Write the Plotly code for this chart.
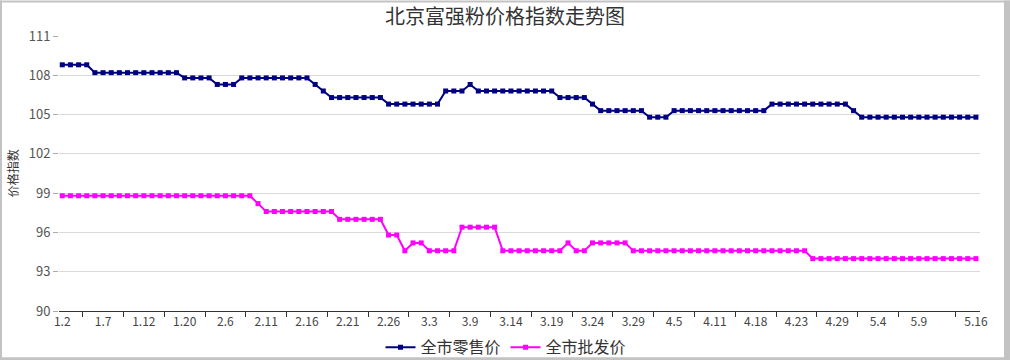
import plotly.graph_objects as go

dates = [
    "1.2", "1.3", "1.4", "1.5", "1.6",
    "1.7", "1.8", "1.9", "1.10", "1.11",
    "1.12", "1.13", "1.14", "1.17", "1.18",
    "1.20", "1.21", "1.24", "1.25", "1.26",
    "2.6", "2.7", "2.8", "2.9", "2.10",
    "2.11", "2.12", "2.13", "2.14", "2.15",
    "2.16", "2.17", "2.18", "2.19", "2.20",
    "2.21", "2.22", "2.23", "2.24", "2.25",
    "2.26", "2.27", "2.28", "3.1", "3.2",
    "3.3", "3.4", "3.5", "3.7", "3.8",
    "3.9", "3.10", "3.11", "3.12", "3.13",
    "3.14", "3.15", "3.16", "3.17", "3.18",
    "3.19", "3.20", "3.21", "3.22", "3.23",
    "3.24", "3.25", "3.26", "3.27", "3.28",
    "3.29", "3.30", "3.31", "4.1", "4.2",
    "4.5", "4.6", "4.7", "4.8", "4.9",
    "4.11", "4.12", "4.13", "4.14", "4.15",
    "4.18", "4.19", "4.20", "4.21", "4.22",
    "4.23", "4.24", "4.25", "4.26", "4.27",
    "4.29", "4.30", "5.1", "5.2", "5.3",
    "5.4", "5.5", "5.6", "5.7", "5.8",
    "5.9", "5.10", "5.11", "5.12", "5.13", "5.14", "5.15",
    "5.16",
]

retail = (
    [108.8] * 4 + [108.2] * 11 + [107.8] * 4 + [107.3] * 3 + [107.8] * 9
    + [107.3] + [106.8] + [106.3] * 7 + [105.8] * 7 + [106.8] * 3 + [107.3]
    + [106.8] * 10 + [106.3] * 4 + [105.8] + [105.3] * 6 + [104.8] * 3
    + [105.3] * 12 + [105.8] * 10 + [105.3] + [104.8] * 15
)

wholesale = (
    [98.8] * 24 + [98.2] + [97.6] * 9 + [97.0] * 6 + [95.8] * 2 + [94.6]
    + [95.2] * 2 + [94.6] * 4 + [96.4] * 5 + [94.6] * 8 + [95.2] + [94.6] * 2
    + [95.2] * 5 + [94.6] * 22 + [94.0] * 21
)

tick_labels = ["1.2", "1.7", "1.12", "1.20", "2.6", "2.11", "2.16", "2.21", "2.26",
               "3.3", "3.9", "3.14", "3.19", "3.24", "3.29", "4.5", "4.11", "4.18",
               "4.23", "4.29", "5.4", "5.9", "5.16"]
y_ticks = [90, 93, 96, 99, 102, 105, 108, 111]

series_names = ["全市零售价", "全市批发价"]
title_text = "北京富强粉价格指数走势图"
y_title = "价格指数"

FONT = "Noto Sans CJK SC, Noto Sans, sans-serif"

# layout geometry (pixels)
W, H = 1010, 360
L, R, T, B = 59, 980, 35.6, 310.7
PW, PH = R - L, B - T

def px_x(x):
    return (x - L) / PW

def px_y(y):
    return (B - y) / PH

# tick marks sit between labelled categories
idx = {d: i for i, d in enumerate(dates)}
lab_idx = [idx[t] for t in tick_labels]
boundary = [(a + b) / 2 for a, b in zip(lab_idx[:-2], lab_idx[1:-1])] + [109.5]

fig = go.Figure()
fig.add_trace(go.Scatter(
    x=dates, y=retail, name=series_names[0], mode="lines+markers",
    line=dict(color="#000080", width=2),
    marker=dict(symbol="square", size=5, color="#000080"),
))
fig.add_trace(go.Scatter(
    x=dates, y=wholesale, name=series_names[1], mode="lines+markers",
    line=dict(color="#FF00FF", width=2),
    marker=dict(symbol="square", size=5, color="#FF00FF"),
))
# invisible helper trace for the tick-mark axis
fig.add_trace(go.Scatter(x=[0, len(dates) - 1], y=[None, None], xaxis="x2",
                         showlegend=False, hoverinfo="skip", mode="lines"))

shapes = []
frame = "#c3c3c3"
for (x0, y0, x1, y1) in [(0, 0, 2, H), (0, 0, W, 2), (1004, 0, W, H), (0, 357, W, H)]:
    shapes.append(dict(type="rect", xref="paper", yref="paper",
                       x0=px_x(x0), x1=px_x(x1), y0=px_y(y1), y1=px_y(y0),
                       fillcolor=frame, line=dict(width=0), layer="above"))

fig.update_layout(
    width=W, height=H,
    margin=dict(l=L, r=W - R, t=T, b=H - B, pad=0, autoexpand=False),
    paper_bgcolor="white", plot_bgcolor="white",
    font=dict(family=FONT, color="#333333", size=12),
    title=dict(text=title_text, x=0.5, xref="container", xanchor="center",
               y=1 - 17 / H, yanchor="middle", yref="container",
               font=dict(size=20, color="#333333", family=FONT)),
    xaxis=dict(
        type="category", range=[-0.4, 112.5], automargin=False,
        tickmode="array", tickvals=tick_labels, ticktext=tick_labels,
        ticks="", showgrid=False, showline=True, linecolor="#333333", linewidth=1,
        tickfont=dict(size=12, color="#444444", family=FONT), zeroline=False,
    ),
    xaxis2=dict(
        overlaying="x", anchor="y", side="bottom", range=[-0.4, 112.5],
        tickmode="array", tickvals=boundary, showticklabels=False, automargin=False,
        ticks="outside", ticklen=5, tickcolor="#333333", tickwidth=1,
        showgrid=False, showline=False, zeroline=False,
    ),
    yaxis=dict(
        range=[90, 111], tickmode="array", tickvals=y_ticks, automargin=False,
        ticks="outside", ticklen=5, tickcolor="#aaaaaa", tickwidth=1,
        showgrid=True, gridcolor="#d9d9d9", gridwidth=1,
        showline=False, zeroline=False,
        tickfont=dict(size=13, color="#555555", family=FONT),
    ),
    legend=dict(orientation="h", x=px_x(506), xanchor="center",
                y=px_y(347), yanchor="middle",
                font=dict(size=16, color="#333333", family=FONT),
                bgcolor="rgba(0,0,0,0)"),
    annotations=[dict(text=y_title, xref="paper", yref="paper",
                      x=px_x(12), y=px_y(173), xanchor="center", yanchor="middle",
                      textangle=-90, showarrow=False,
                      font=dict(size=12, color="#333333", family=FONT))],
    shapes=shapes,
    showlegend=True,
)

fig.write_html(
    "out.html",
    config={"displayModeBar": False},
    post_script="document.body.style.margin='0';document.body.style.overflow='hidden';",
)
